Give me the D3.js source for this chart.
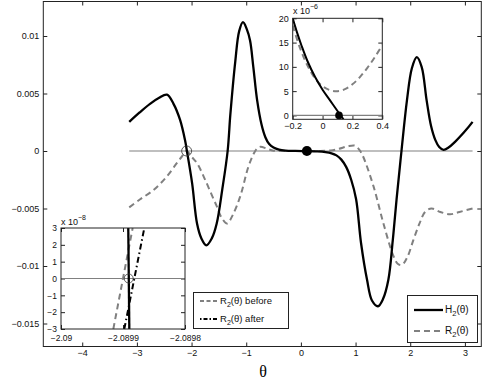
<script src="https://d3js.org/d3.v7.min.js"></script>
<style>
  body { margin: 0; background: #fff; }
  text { font-family: 'Liberation Sans', Arial, sans-serif; }
</style>
<div id="vis"></div>
<script>
  // main curves
  var h2Theta = [-3.14, -2.95, -2.76, -2.6, -2.45, -2.33, -2.21, -2.12, -2.085, -1.99, -1.9, -1.82, -1.73, -1.63, -1.54, -1.44, -1.34, -1.29, -1.2, -1.13, -1.06, -0.99, -0.93, -0.87, -0.8, -0.72, -0.65, -0.58, -0.5, -0.4, -0.28, -0.1, 0.1, 0.3, 0.45, 0.56, 0.65, 0.74, 0.83, 0.92, 1.01, 1.1, 1.21, 1.3, 1.41, 1.5, 1.6, 1.68, 1.75, 1.84, 1.94, 2.03, 2.12, 2.21, 2.3, 2.38, 2.46, 2.53, 2.61, 2.7, 2.82, 2.98, 3.14];
  var h2Vals = [2.53, 3.35, 4.1, 4.6, 4.9, 4.1, 2.7, 0.95, 0, -2.8, -6.3, -7.6, -8.2, -7.6, -6.3, -3.4, 0, 3.2, 7.8, 10.4, 11.2, 10.6, 9.6, 7.3, 4.4, 2.3, 1.2, 0.6, 0.3, 0.12, 0.04, 0.01, -0.01, -0.04, -0.1, -0.2, -0.38, -0.75, -1.4, -2.5, -4.2, -8.0, -11.2, -13.0, -13.5, -12.9, -11.2, -7.8, -4.2, 0, 4.4, 7.2, 8.16, 7.3, 4.4, 2.2, 0.95, 0.35, 0.1, 0.3, 0.8, 1.6, 2.53];
  var r2Theta = [-3.14, -2.94, -2.69, -2.45, -2.27, -2.18, -2.09, -2.0, -1.9, -1.78, -1.66, -1.54, -1.45, -1.35, -1.25, -1.11, -0.96, -0.86, -0.8, -0.74, -0.62, -0.5, -0.3, 0, 0.3, 0.55, 0.7, 0.85, 0.99, 1.07, 1.14, 1.33, 1.51, 1.69, 1.77, 1.85, 1.95, 2.06, 2.17, 2.27, 2.39, 2.55, 2.73, 2.9, 3.14];
  var r2Vals = [-4.9, -4.2, -3.37, -2.2, -1.06, -0.5, 0, -0.5, -1.06, -2.2, -3.5, -4.8, -5.8, -6.3, -5.6, -3.95, -1.36, -0.2, 0.23, 0.37, 0.2, 0.03, 0, 0, 0, 0.05, 0.2, 0.4, 0.46, 0.1, -0.5, -3.1, -6.3, -9.1, -9.8, -9.9, -9.2, -7.7, -6.3, -5.3, -5.0, -5.3, -5.5, -5.3, -5.0];
  var xTicks = [-4, -3, -2, -1, 0, 1, 2, 3];
  var yTicks = [-0.015, -0.01, -0.005, 0, 0.005, 0.01];

  // top inset (x 10^-6)
  var in1HTheta = [-0.2, -0.17, -0.14, -0.1, -0.05, 0, 0.05, 0.1, 0.14];
  var in1HVals = [20, 17, 14.3, 11.1, 7.9, 5.3, 3.1, 0.9, -0.8];
  var in1RTheta = [-0.2, -0.15, -0.1, -0.05, 0, 0.05, 0.1, 0.15, 0.2, 0.25, 0.3, 0.35, 0.4];
  var in1RVals = [18.5, 13.8, 10.2, 7.6, 6.0, 5.2, 5.0, 5.4, 6.4, 7.9, 9.8, 12.0, 14.5];
  var in1XTicks = [-0.2, 0, 0.2, 0.4];
  var in1YTicks = [0, 5, 10, 15, 20];

  // bottom inset (x 10^-8)
  var in2HTheta = [-2.0898915, -2.0898898];
  var in2HVals = [3, -3];
  var in2BeforeTheta = [-2.0899156, -2.0898844];
  var in2BeforeVals = [-3, 3];
  var in2AfterTheta = [-2.0898979, -2.0898656];
  var in2AfterVals = [-3, 3];
  var in2XTicks = [-2.09, -2.0899, -2.0898];
  var in2YTicks = [-3, -2, -1, 0, 1, 2, 3];

  var black = '#000';
  var grey = '#808080';

  var svg = d3.select('#vis')
    .append('svg')
    .attr('width', 498)
    .attr('height', 382);

  function fmt(d) {
    return d === 0 ? '0' : String(d).replace('-', '\u2212');
  }

  function pairs(xs, ys, k) {
    return xs.map(function(x, i) { return [x, ys[i] * k]; });
  }

  function frame(g, x, y, xt, yt, fs, pad) {
    var r = x.range(), h = y.range();
    g.append('rect')
      .attr('x', r[0]).attr('y', h[1])
      .attr('width', r[1] - r[0]).attr('height', h[0] - h[1])
      .style('fill', '#fff');
    g.append('g').attr('transform', 'translate(0,' + h[0] + ')')
      .call(d3.axisBottom(x).tickValues(xt).tickSize(-4).tickSizeOuter(0).tickPadding(pad).tickFormat(fmt));
    g.append('g').attr('transform', 'translate(0,' + h[1] + ')')
      .call(d3.axisTop(x).tickValues(xt).tickSize(-4).tickSizeOuter(0).tickFormat(''));
    g.append('g').attr('transform', 'translate(' + r[0] + ',0)')
      .call(d3.axisLeft(y).tickValues(yt).tickSize(-4).tickSizeOuter(0).tickPadding(4).tickFormat(fmt));
    g.append('g').attr('transform', 'translate(' + r[1] + ',0)')
      .call(d3.axisRight(y).tickValues(yt).tickSize(-4).tickSizeOuter(0).tickFormat(''));
    g.selectAll('.domain').remove();
    g.selectAll('.tick line').attr('stroke', '#222');
    g.selectAll('.tick text')
      .style('font-size', fs + 'px')
      .style('font-family', "'Liberation Sans', Arial, sans-serif")
      .attr('fill', '#111');
  }

  function box(g, x, y) {
    var r = x.range(), h = y.range();
    g.append('rect')
      .attr('x', r[0]).attr('y', h[1])
      .attr('width', r[1] - r[0]).attr('height', h[0] - h[1])
      .style('fill', 'none').style('stroke', '#222').style('stroke-width', 1);
  }

  function curve(g, data, x, y, color, width, dash, smooth) {
    var line = d3.line()
      .x(function(d) { return x(d[0]); })
      .y(function(d) { return y(d[1]); });
    if (smooth) line.curve(d3.curveCatmullRom.alpha(0.5));
    g.append('path')
      .datum(data)
      .attr('d', line)
      .style('fill', 'none')
      .style('stroke', color)
      .style('stroke-width', width)
      .style('stroke-dasharray', dash || null);
  }

  function subLabel(g, x, y, letter, rest, fs) {
    var t = g.append('text').attr('x', x).attr('y', y).style('font-size', fs + 'px').attr('fill', '#111');
    t.append('tspan').text(letter);
    t.append('tspan').text('2').attr('dy', 3).style('font-size', (fs * 0.75) + 'px');
    t.append('tspan').text(rest).attr('dy', -3);
  }

  function expLabel(g, x, y, p) {
    var t = g.append('text').attr('x', x).attr('y', y).style('font-size', '9px').attr('fill', '#111');
    t.append('tspan').text('x 10');
    t.append('tspan').text(p).attr('dy', -5).style('font-size', '7px');
  }

  // ---- main axes
  var x = d3.scaleLinear().domain([-4.712, 3.3]).range([43.3, 481.3]);
  var y = d3.scaleLinear().domain([-0.017, 0.013]).range([346.5, 1.5]);
  var main = svg.append('g');
  frame(main, x, y, xTicks, yTicks, 9, 3);

  main.append('line')
    .attr('x1', x(-3.14)).attr('x2', x(3.14))
    .attr('y1', y(0)).attr('y2', y(0))
    .style('stroke', grey).style('stroke-width', 1.2);

  curve(main, pairs(r2Theta, r2Vals, 0.001), x, y, grey, 2, '6,4', true);
  curve(main, pairs(h2Theta, h2Vals, 0.001), x, y, black, 2.3, null, true);

  main.append('circle')
    .attr('cx', x(-2.0899)).attr('cy', y(0)).attr('r', 5)
    .style('fill', 'none').style('stroke', '#333').style('stroke-width', 0.8);
  main.append('circle')
    .attr('cx', x(0.11)).attr('cy', y(0)).attr('r', 5)
    .style('fill', black);
  box(main, x, y);

  svg.append('text')
    .attr('x', 263).attr('y', 377)
    .attr('text-anchor', 'middle')
    .style('font-family', "'Liberation Serif', 'Times New Roman', serif")
    .style('font-size', '16px')
    .text('\u03b8');

  // main legend
  var leg = svg.append('g');
  leg.append('rect').attr('x', 407.5).attr('y', 295.5).attr('width', 70).attr('height', 47)
    .style('fill', '#fff').style('stroke', '#222').style('stroke-width', 1);
  leg.append('line').attr('x1', 414).attr('x2', 443).attr('y1', 310).attr('y2', 310)
    .style('stroke', black).style('stroke-width', 2.3);
  leg.append('line').attr('x1', 414).attr('x2', 443).attr('y1', 331).attr('y2', 331)
    .style('stroke', grey).style('stroke-width', 2).style('stroke-dasharray', '6,4');
  subLabel(leg, 445, 313, 'H', '(\u03b8)', 10);
  subLabel(leg, 445, 334, 'R', '(\u03b8)', 10);

  // ---- top inset
  var ix = d3.scaleLinear().domain([-0.2, 0.4]).range([292.7, 382.3]);
  var iy = d3.scaleLinear().domain([-0.8, 20]).range([119.3, 18.3]);
  var in1 = svg.append('g');
  frame(in1, ix, iy, in1XTicks, in1YTicks, 9, 3);
  in1.append('line')
    .attr('x1', ix.range()[0]).attr('x2', ix.range()[1])
    .attr('y1', iy(0)).attr('y2', iy(0))
    .style('stroke', grey).style('stroke-width', 1.2);
  var clip1 = in1.append('clipPath').attr('id', 'c1');
  clip1.append('rect').attr('x', 292.7).attr('y', 18.3).attr('width', 89.6).attr('height', 101);
  var in1c = in1.append('g').attr('clip-path', 'url(#c1)');
  curve(in1c, pairs(in1RTheta, in1RVals, 1), ix, iy, grey, 2, '6,4', true);
  curve(in1c, pairs(in1HTheta, in1HVals, 1), ix, iy, black, 2, null, true);
  in1.append('circle').attr('cx', ix(0.11)).attr('cy', iy(0)).attr('r', 3.8).style('fill', black);
  box(in1, ix, iy);
  expLabel(in1, 293, 14, '\u22126');

  // ---- bottom inset
  var jx = d3.scaleLinear().domain([-2.09, -2.0898]).range([61, 185]);
  var jy = d3.scaleLinear().domain([-3, 3]).range([329, 228]);
  var in2 = svg.append('g');
  frame(in2, jx, jy, in2XTicks, in2YTicks, 8.5, 6);
  in2.append('line')
    .attr('x1', jx.range()[0]).attr('x2', jx.range()[1])
    .attr('y1', jy(0)).attr('y2', jy(0))
    .style('stroke', grey).style('stroke-width', 1.2);
  curve(in2, pairs(in2BeforeTheta, in2BeforeVals, 1), jx, jy, grey, 2, '6,4', false);
  curve(in2, pairs(in2AfterTheta, in2AfterVals, 1), jx, jy, black, 2, '6,3,1.5,3', false);
  curve(in2, pairs(in2HTheta, in2HVals, 1), jx, jy, black, 2.3, null, false);
  in2.append('circle').attr('cx', jx(-2.0898908)).attr('cy', jy(0)).attr('r', 4.5)
    .style('fill', 'none').style('stroke', '#333').style('stroke-width', 0.8);
  box(in2, jx, jy);
  expLabel(in2, 61, 225, '\u22128');

  // inset legend
  var leg2 = svg.append('g');
  leg2.append('rect').attr('x', 193.5).attr('y', 292.5).attr('width', 95).attr('height', 36)
    .style('fill', '#fff').style('stroke', '#222').style('stroke-width', 1);
  leg2.append('line').attr('x1', 200).attr('x2', 217).attr('y1', 301).attr('y2', 301)
    .style('stroke', grey).style('stroke-width', 2).style('stroke-dasharray', '4,2.5');
  leg2.append('line').attr('x1', 200).attr('x2', 217).attr('y1', 319).attr('y2', 319)
    .style('stroke', black).style('stroke-width', 2).style('stroke-dasharray', '1.5,2,4,2');
  subLabel(leg2, 220, 304, 'R', '(\u03b8) before', 9.5);
  subLabel(leg2, 220, 322, 'R', '(\u03b8) after', 9.5);
</script>
